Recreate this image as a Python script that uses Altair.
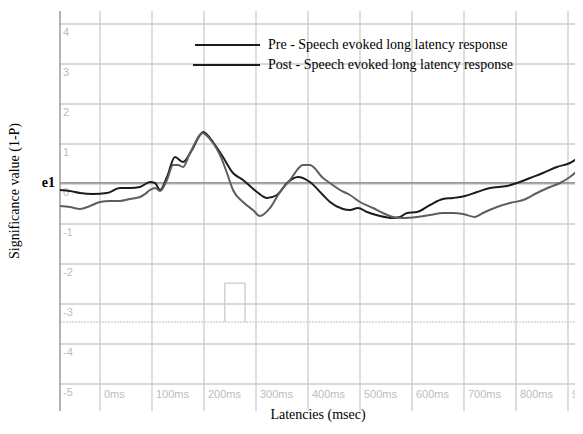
import altair as alt
import pandas as pd

# ---- data ----
pre_ms = [-76.9, -57.7, -38.5, -13.5, 13.5, 38.5, 57.7, 76.9, 96.2, 105.8, 115.4, 128.8, 144.2, 159.6,
          176.9, 192.3, 198.1, 221.2, 236.5, 255.8, 275.0, 301.9, 321.2, 340.4, 359.6, 380.8, 403.8,
          428.8, 442.3, 467.3, 480.8, 496.2, 513.5, 538.5, 563.5, 576.9, 590.4, 609.6, 634.6, 659.6,
          678.8, 701.9, 725.0, 750.0, 782.7, 801.9, 826.9, 851.9, 878.8, 903.8, 928.8, 945.0]
pre_val = [-0.15, -0.175, -0.225, -0.25, -0.225, -0.1, -0.1, -0.075, 0.05, 0.025, -0.15, 0.175, 0.675, 0.55,
           0.85, 1.225, 1.3, 0.975, 0.675, 0.275, 0.1, -0.2, -0.35, -0.275, 0.025, 0.175, 0.05,
           -0.275, -0.45, -0.625, -0.65, -0.6, -0.7, -0.8, -0.85, -0.825, -0.725, -0.7, -0.525, -0.375,
           -0.35, -0.3, -0.2, -0.1, -0.05, 0.025, 0.15, 0.275, 0.425, 0.525, 0.725, 0.82]

post_ms = [-76.9, -57.7, -38.5, -19.2, 0.0, 19.2, 38.5, 57.7, 76.9, 86.5, 96.2, 105.8, 115.4, 128.8,
           140.4, 150.0, 159.6, 173.1, 192.3, 196.2, 217.3, 230.8, 244.2, 255.8, 275.0, 294.2, 307.7,
           326.9, 346.2, 365.4, 390.4, 403.8, 428.8, 442.3, 461.5, 480.8, 500.0, 525.0, 544.2, 563.5,
           582.7, 609.6, 634.6, 659.6, 678.8, 698.1, 721.2, 736.5, 763.5, 788.5, 813.5, 840.4, 865.4,
           884.6, 903.8, 928.8, 945.0]
post_val = [-0.55, -0.575, -0.625, -0.55, -0.45, -0.425, -0.425, -0.375, -0.325, -0.25, -0.15, -0.1, -0.175, 0.1,
            0.475, 0.475, 0.425, 0.775, 1.225, 1.275, 1.025, 0.725, 0.275, -0.15, -0.45, -0.65, -0.8,
            -0.6, -0.2, 0.1, 0.475, 0.475, 0.15, 0.025, -0.15, -0.275, -0.45, -0.6, -0.725, -0.825,
            -0.85, -0.825, -0.775, -0.725, -0.725, -0.75, -0.825, -0.725, -0.575, -0.475, -0.4, -0.225, -0.075,
            0.025, 0.175, 0.425, 0.5]

series_names = ["Pre - Speech evoked long latency response", "Post - Speech evoked long latency response"]
series_colors = ["#1c1c1c", "#5e5e5e"]

grid_y = [-5, -4, -3, -2, -1, 0, 1, 2, 3, 4]
grid_y_labels = ["-5", "-4", "-3", "-2", "-1", "0", "1", "2", "3", "4"]
grid_x = [0, 100, 200, 300, 400, 500, 600, 700, 800, 900]
grid_x_labels = ["0ms", "100ms", "200ms", "300ms", "400ms", "500ms", "600ms", "700ms", "800ms", "900ms"]

e1_level = 0.03
stim_ms = [240, 240, 279, 279]
stim_val = [-3.45, -2.48, -2.48, -3.45]
stim_base = -3.45

x_title = "Latencies (msec)"
y_title = "Significance value (1-P)"
e1_label = "e1"

# ---- tables ----
curves = pd.DataFrame({
    "ms": pre_ms + post_ms,
    "val": pre_val + post_val,
    "series": [series_names[0]] * len(pre_ms) + [series_names[1]] * len(post_ms),
    "idx": list(range(len(pre_ms))) + list(range(len(post_ms))),
})
gy = pd.DataFrame({"v": grid_y, "lab": grid_y_labels})
gx = pd.DataFrame({"ms": grid_x, "lab": grid_x_labels})
stim = pd.DataFrame({"ms": stim_ms, "val": stim_val, "idx": list(range(len(stim_ms)))})

W, H = 515, 400
xs = alt.Scale(domain=[-76.92, 913.5], nice=False, zero=False)
ys = alt.Scale(domain=[-5.675, 4.325], nice=False, zero=False)

grid_col = "#cdcdcd"

xgrid = alt.Chart(gx).mark_rule(color=grid_col, strokeWidth=1.3).encode(
    x=alt.X("ms:Q", scale=xs, axis=None))
ygrid = alt.Chart(gy).mark_rule(color=grid_col, strokeWidth=1.3).encode(
    y=alt.Y("v:Q", scale=ys, axis=None))
e1line = alt.Chart(pd.DataFrame({"v": [e1_level]})).mark_rule(color="#7a7a7a", strokeWidth=1.2).encode(
    y=alt.Y("v:Q", scale=ys, axis=None))
yaxis = alt.Chart(pd.DataFrame({"a": [0]})).mark_rule(color="#9a9a9a", strokeWidth=1.5).encode(
    x=alt.value(0), y=alt.value(0), y2=alt.value(H))
base_line = alt.Chart(pd.DataFrame({"v": [stim_base]})).mark_rule(
    color="#bdbdbd", strokeWidth=1.2, strokeDash=[2, 1]).encode(
    y=alt.Y("v:Q", scale=ys, axis=None))
pulse = alt.Chart(stim).mark_line(color="#cccccc", strokeWidth=1.3).encode(
    x=alt.X("ms:Q", scale=xs, axis=None),
    y=alt.Y("val:Q", scale=ys, axis=None),
    order="idx:Q")

ylab = alt.Chart(gy).mark_text(align="left", baseline="top", dx=3, dy=3,
                               font="Liberation Sans", fontSize=11, color="#bcbcbc").encode(
    x=alt.value(0), y=alt.Y("v:Q", scale=ys, axis=None), text="lab:N")
xlab = alt.Chart(gx).mark_text(align="left", baseline="middle", dx=4,
                               font="Liberation Sans", fontSize=11, color="#bcbcbc").encode(
    x=alt.X("ms:Q", scale=xs, axis=None), y=alt.value(384), text="lab:N")

lines = alt.Chart(curves).mark_line(interpolate="monotone", strokeWidth=2, clip=True).encode(
    x=alt.X("ms:Q", scale=xs, axis=None),
    y=alt.Y("val:Q", scale=ys, axis=None),
    color=alt.Color("series:N",
                    scale=alt.Scale(domain=series_names, range=series_colors),
                    legend=None),
    order="idx:Q")

# hand-drawn legend (two rows)
legend_layers = []
for i, (name, col) in enumerate(zip(series_names, series_colors)):
    yy = 34 + 20 * i
    legend_layers.append(
        alt.Chart(pd.DataFrame({"t": [name]})).mark_rule(color="#1c1c1c", strokeWidth=2.2).encode(
            x=alt.value(135 - 2 * i), x2=alt.value(200), y=alt.value(yy)))
    legend_layers.append(
        alt.Chart(pd.DataFrame({"t": [name]})).mark_text(
            font="Liberation Serif", fontSize=14, color="black", align="left", baseline="middle").encode(
            x=alt.value(208), y=alt.value(yy), text="t:N"))

xt = alt.Chart(pd.DataFrame({"t": [x_title]})).mark_text(
    font="Liberation Serif", fontSize=14, color="black", baseline="middle", align="center").encode(
    x=alt.value(258), y=alt.value(404), text="t:N")
yt = alt.Chart(pd.DataFrame({"t": [y_title]})).mark_text(
    font="Liberation Serif", fontSize=14, color="black", baseline="middle", align="center", angle=270).encode(
    x=alt.value(-45), y=alt.value(180), text="t:N")
e1t = alt.Chart(pd.DataFrame({"t": [e1_label], "v": [e1_level]})).mark_text(
    font="Liberation Serif", fontSize=14, fontWeight="bold", color="black", baseline="middle", align="right").encode(
    x=alt.value(-5), y=alt.Y("v:Q", scale=ys, axis=None), text="t:N")

chart = alt.layer(xgrid, ygrid, e1line, base_line, pulse, yaxis, ylab, xlab, lines,
                  *legend_layers, xt, yt, e1t).properties(
    width=W, height=H,
    autosize=alt.AutoSizeParams(type="none"),
    padding={"left": 52, "top": 3, "right": 0, "bottom": 13},
).configure_view(stroke=None)

chart.save("out.html", embed_options={"renderer": "svg", "actions": False})
